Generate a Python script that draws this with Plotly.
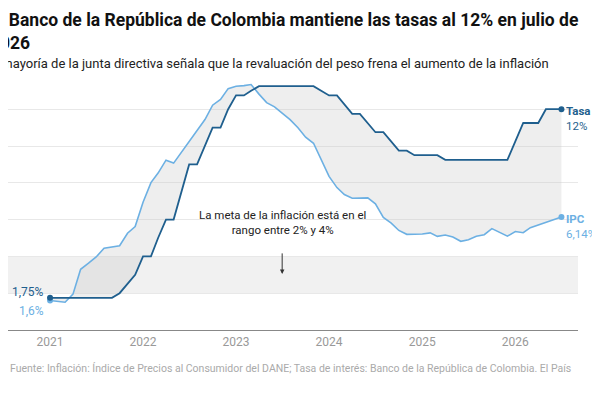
import pandas as pd
import plotly.graph_objects as go

# monthly values, Jan 2021 - Jul 2026
months = pd.date_range("2021-01-01", "2026-07-01", freq="MS")

tasa = [1.75, 1.75, 1.75, 1.75, 1.75, 1.75, 1.75, 1.75, 1.75, 2.0, 2.5, 3.0,
        4.0, 4.0, 5.0, 6.0, 6.0, 7.5, 9.0, 9.0, 10.0, 11.0, 11.0, 12.0,
        12.75, 12.75, 13.0, 13.25, 13.25, 13.25, 13.25, 13.25, 13.25, 13.25, 13.25, 13.0,
        12.75, 12.75, 12.25, 11.75, 11.75, 11.25, 10.75, 10.75, 10.25, 9.75, 9.75, 9.5,
        9.5, 9.5, 9.5, 9.25, 9.25, 9.25, 9.25, 9.25, 9.25, 9.25, 9.25, 9.25,
        10.25, 11.25, 11.25, 11.25, 12.0, 12.0, 12.0]

ipc = [1.60, 1.56, 1.51, 1.95, 3.30, 3.63, 3.97, 4.44, 4.51, 4.58, 5.26, 5.62,
       6.94, 8.01, 8.53, 9.23, 9.07, 9.67, 10.21, 10.84, 11.44, 12.22, 12.53, 13.12,
       13.25, 13.28, 13.34, 12.82, 12.36, 12.13, 11.78, 11.43, 10.99, 10.48, 10.15, 9.28,
       8.35, 7.74, 7.36, 7.16, 7.16, 7.18, 6.86, 6.12, 5.81, 5.41, 5.20, 5.20,
       5.22, 5.28, 5.09, 5.16, 5.05, 4.82, 4.90, 5.10, 5.18, 5.51, 5.30, 5.10,
       5.35, 5.29, 5.56, 5.70, 5.85, 6.00, 6.14]

year_ticks = ["2021-01-01", "2022-01-01", "2023-01-01", "2024-01-01", "2025-01-01", "2026-01-01"]
year_labels = ["2021", "2022", "2023", "2024", "2025", "2026"]

dark = "#1f5f8e"
light = "#6cb0e3"
font = "Roboto"

fig = go.Figure()

# inflation target band 2-4 %
fig.add_shape(type="rect", xref="paper", x0=0, x1=1, yref="y", y0=2, y1=4,
              fillcolor="#f1f1f1", line_width=0, layer="below")

fig.add_trace(go.Scatter(x=months, y=ipc, mode="lines",
                         line=dict(color=light, width=1.6), hoverinfo="skip"))
fig.add_trace(go.Scatter(x=months, y=tasa, mode="lines", fill="tonexty",
                         fillcolor="rgba(200,200,200,0.3)",
                         line=dict(color=dark, width=1.8), hoverinfo="skip"))

# end dots
fig.add_trace(go.Scatter(x=[months[0], months[-1]], y=[ipc[0], ipc[-1]], mode="markers",
                         marker=dict(color=light, size=6), hoverinfo="skip"))
fig.add_trace(go.Scatter(x=[months[0], months[-1]], y=[tasa[0], tasa[-1]], mode="markers",
                         marker=dict(color=dark, size=6), hoverinfo="skip"))

def txt(size, color):
    return dict(family=font, size=size, color=color)

fig.add_annotation(x=months[0], y=tasa[0], text="1,75%", xanchor="right", yanchor="bottom",
                   xshift=-4, yshift=-3, showarrow=False, font=txt(12, dark))
fig.add_annotation(x=months[0], y=ipc[0], text="1,6%", xanchor="right", yanchor="top",
                   xshift=-4, yshift=-1, showarrow=False, font=txt(12, light))
fig.add_annotation(x=months[-1], y=tasa[-1], text="<b>Tasa</b><br>12%", xanchor="left",
                   align="left", xshift=3, yshift=-9, showarrow=False, font=txt(11.5, dark))
fig.add_annotation(x=months[-1], y=ipc[-1], text="<b>IPC</b><br>6,14%", xanchor="left",
                   align="left", xshift=3, yshift=-9, showarrow=False, font=txt(11.5, light))
fig.add_annotation(x="2023-07-01", y=4.95, text="La meta de la inflación está en el<br>rango entre 2% y 4%",
                   showarrow=False, yanchor="bottom", font=txt(11.5, "#222"))
fig.add_annotation(x="2023-07-01", y=3.05, ax=0, ay=-22, showarrow=True, arrowhead=2,
                   arrowsize=0.9, arrowwidth=1, arrowcolor="#333", text="")
fig.add_annotation(xref="paper", yref="y", x=0, y=12, text="12 %", xanchor="right",
                   yanchor="bottom", showarrow=False, xshift=0, font=txt(11, "#999"))

fig.add_annotation(xref="paper", yref="paper", x=0, y=0, yshift=-38, xanchor="left",
                   yanchor="middle", showarrow=False, font=txt(10.5, "#aaa"),
                   text="Fuente: Inflación: Índice de Precios al Consumidor del DANE; Tasa de interés: Banco de la República de Colombia. El País")
fig.add_annotation(xref="paper", yref="paper", x=-0.035, y=1.0, yshift=60, xanchor="left",
                   yanchor="top", align="left", showarrow=False,
                   text="<b>El Banco de la República de Colombia mantiene las tasas al 12% en julio de<br>2026</b>",
                   font=txt(17.5, "#111"))
fig.add_annotation(xref="paper", yref="paper", x=-0.045, y=1.0, yshift=14, xanchor="left",
                   yanchor="top", showarrow=False, font=txt(13, "#222"),
                   text="La mayoría de la junta directiva señala que la revaluación del peso frena el aumento de la inflación")

fig.update_layout(
    width=600, height=400, showlegend=False,
    plot_bgcolor="white", paper_bgcolor="white",
    margin=dict(l=0, r=30, t=60, b=78, autoexpand=False),
    xaxis=dict(range=["2020-07-20", "2026-09-04"], tickvals=year_ticks, ticktext=year_labels,
               showgrid=False, showline=True, linecolor="#888", linewidth=1.2, ticks="",
               tickfont=txt(12, "#999"), zeroline=False),
    yaxis=dict(range=[0, 14.24], tickvals=[2, 4, 6, 8, 10, 12], showticklabels=False,
               gridcolor="#e8e8e8", zeroline=False),
)

fig.write_html("out.html")
